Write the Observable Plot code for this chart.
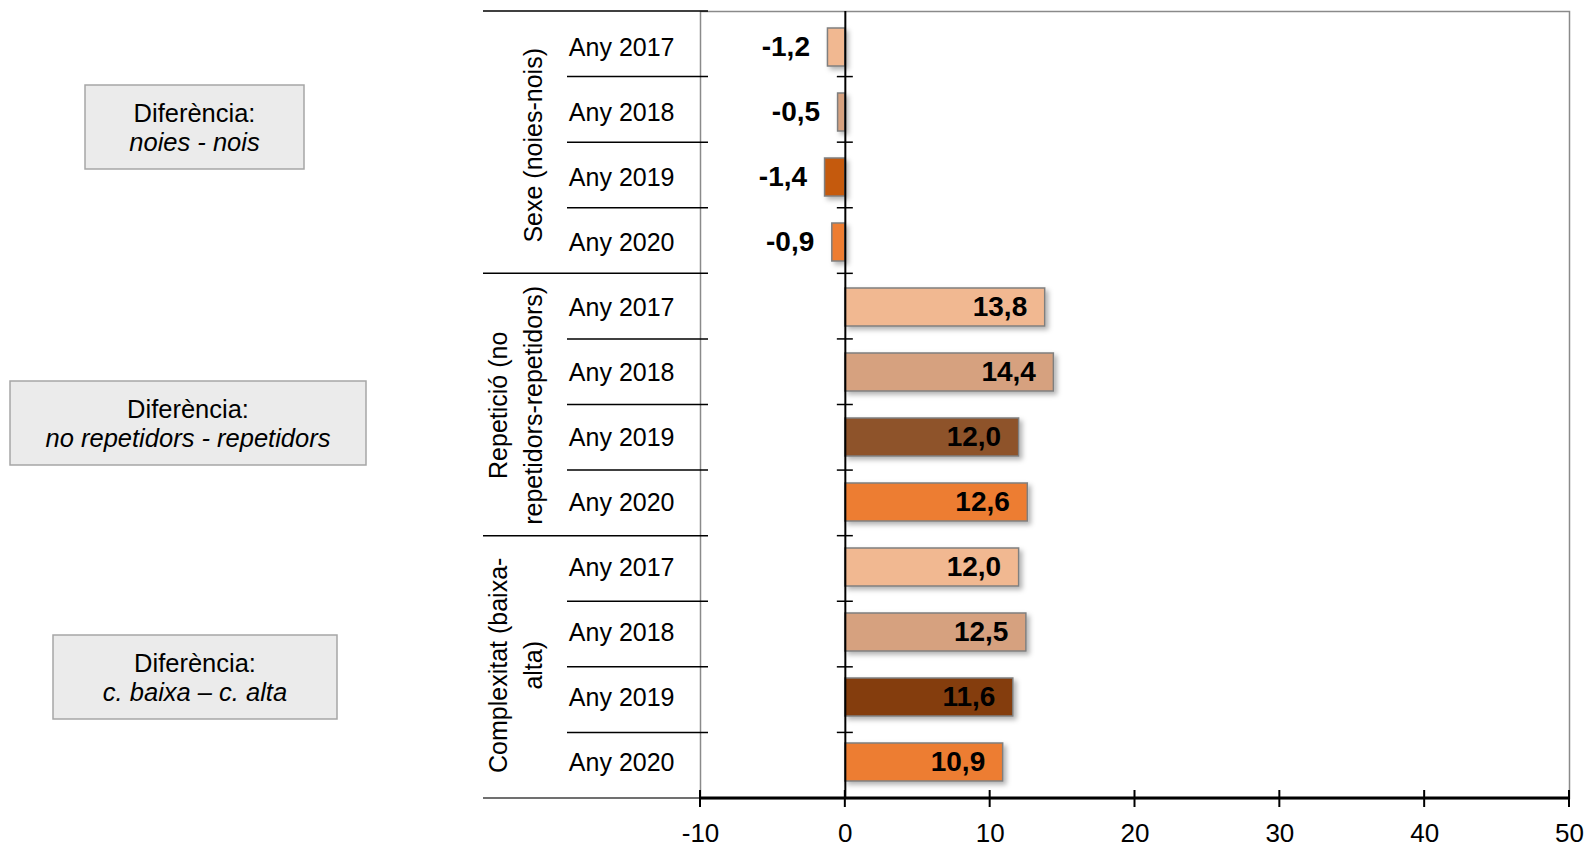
<!DOCTYPE html>
<html><head><meta charset="utf-8">
<script src="https://cdn.jsdelivr.net/npm/d3@7"></script>
<script src="https://cdn.jsdelivr.net/npm/@observablehq/plot@0.6"></script>
<style>
html,body{margin:0;padding:0;background:#fff;overflow:hidden}
#chart svg{font-family:"Liberation Sans",Arial,sans-serif;display:block}
</style></head><body><div id="chart"></div>
<script>
// ---- data ----
const groupIds = ["sexe", "repeticio", "complexitat"];
const groupLabels = ["Sexe (noies-nois)", "Repetició (no\nrepetidors-repetidors)", "Complexitat (baixa-\nalta)"];
const years = ["Any 2017", "Any 2018", "Any 2019", "Any 2020"];
const sexeValues = [-1.2, -0.5, -1.4, -0.9];
const repeticioValues = [13.8, 14.4, 12.0, 12.6];
const complexitatValues = [12.0, 12.5, 11.6, 10.9];
const xTicks = [-10, 0, 10, 20, 30, 40, 50];
const boxTitles = ["Diferència:", "Diferència:", "Diferència:"];
const boxSubtitles = ["noies - nois", "no repetidors - repetidors", "c. baixa – c. alta"];

// ---- styles ----
const yearColors = ["#F1B891", "#D6A17F", null, "#ED7D31"];
const color2019 = ["#C55A11", "#8E5229", "#843C0C"];
const boxLayout = [ // annotation boxes (x, y, w, h) in px
  [85, 85, 219, 84], [10, 381, 356, 84], [53, 635, 284, 84]
];

const valuesByGroup = [sexeValues, repeticioValues, complexitatValues];
const rows = [];
groupIds.forEach((g, gi) => years.forEach((yr, yi) => rows.push({
  key: g + "|" + yr, group: g, year: yr, value: valuesByGroup[gi][yi],
  color: yi === 2 ? color2019[gi] : yearColors[yi]
})));
const keys = rows.map(d => d.key);
const groupAnchors = groupIds.map((g, gi) => ({key: g + "|" + years[1], label: groupLabels[gi]}));
const fmt = v => v.toFixed(1).replace(".", ",");

const W = 1589, H = 846, mL = 700, mR = 20, mT = 11, mB = 48;
const step = (H - mT - mB) / keys.length;
const font = "'Liberation Sans', Arial, sans-serif";

const chart = Plot.plot({
  width: W, height: H, marginLeft: mL, marginRight: mR, marginTop: mT, marginBottom: mB,
  style: {fontFamily: font, background: "white", color: "black", overflow: "visible"},
  x: {domain: [-10, 50], ticks: xTicks},
  y: {domain: keys, paddingInner: 0.42, paddingOuter: 0.21},
  color: {type: "identity"},
  marks: [
    Plot.frame({stroke: "#8a8a8a", strokeWidth: 1.5}),
    Plot.barX(rows, {x: "value", y: "key", fill: "color", stroke: "#7f7f7f", strokeWidth: 1.5}),
    Plot.ruleX([0], {stroke: "black", strokeWidth: 2}),
    Plot.text(rows.filter(d => d.value >= 0), {x: "value", y: "key", text: d => fmt(d.value),
      textAnchor: "end", dx: -18, fontSize: 28, fontWeight: "bold", fill: "black"}),
    Plot.text(rows.filter(d => d.value < 0), {x: "value", y: "key", text: d => fmt(d.value),
      textAnchor: "end", dx: -18, fontSize: 28, fontWeight: "bold", fill: "black"}),
    Plot.axisY({tickSize: 0, tickPadding: 26, fontSize: 25, tickFormat: k => k.split("|")[1], label: null}),
    Plot.axisX({ticks: xTicks, tickSize: 0, tickPadding: 25, fontSize: 26, tickFormat: d => String(d), label: null}),
    Plot.text(groupAnchors, {y: "key", text: "label", frameAnchor: "left", textAnchor: "middle",
      dx: -159, dy: step / 2, rotate: -90, lineAnchor: "bottom", lineHeight: 1.4, fontSize: 25, fill: "black"})
  ]
});
document.getElementById("chart").appendChild(chart);

// ---- decorations derived from scales ----
const svg = d3.select(chart);
const xs = chart.scale("x");
const x0 = xs.apply(0);
const defs = svg.insert("defs", ":first-child");
const f = defs.append("filter").attr("id", "shadow").attr("x", "-10%").attr("y", "-30%").attr("width", "130%").attr("height", "180%");
f.append("feDropShadow").attr("dx", 3).attr("dy", 3).attr("stdDeviation", 2.5)
  .attr("flood-color", "#000").attr("flood-opacity", 0.3);
svg.selectAll('g[aria-label="bar"]').attr("filter", "url(#shadow)");

const deco = svg.append("g");
for (let i = 0; i <= keys.length; i++) {
  const yy = mT + i * step;
  const isGroup = i % years.length === 0;
  if (i < keys.length) {
    deco.append("line").attr("x1", isGroup ? mL - 217 : mL - 133).attr("x2", mL + 8)
      .attr("y1", yy).attr("y2", yy).attr("stroke", "black").attr("stroke-width", 1.5);
  } else {
    deco.append("line").attr("x1", mL - 217).attr("x2", mL)
      .attr("y1", yy).attr("y2", yy).attr("stroke", "#404040").attr("stroke-width", 1.5);
  }
  if (i > 0 && i < keys.length) {
    deco.append("line").attr("x1", x0 - 8).attr("x2", x0 + 8)
      .attr("y1", yy).attr("y2", yy).attr("stroke", "black").attr("stroke-width", 1.5);
  }
}
const yAxis = H - mB;
deco.append("line").attr("x1", xs.apply(-10)).attr("x2", xs.apply(50))
  .attr("y1", yAxis).attr("y2", yAxis).attr("stroke", "black").attr("stroke-width", 3);
xTicks.forEach(t => deco.append("line").attr("x1", xs.apply(t)).attr("x2", xs.apply(t))
  .attr("y1", yAxis - 8).attr("y2", yAxis + 9).attr("stroke", "black").attr("stroke-width", 2));

// ---- annotation boxes ----
boxLayout.forEach(([bx, by, bw, bh], i) => {
  const g = svg.append("g");
  g.append("rect").attr("x", bx).attr("y", by).attr("width", bw).attr("height", bh)
    .attr("fill", "#EBEBEB").attr("stroke", "#A6A6A6").attr("stroke-width", 1.5);
  g.append("text").attr("x", bx + bw / 2).attr("y", by + 37).attr("text-anchor", "middle")
    .attr("font-size", 25.5).attr("font-family", font).attr("fill", "black").text(boxTitles[i]);
  g.append("text").attr("x", bx + bw / 2).attr("y", by + 66).attr("text-anchor", "middle")
    .attr("font-size", 25.5).attr("font-style", "italic").attr("font-family", font).attr("fill", "black").text(boxSubtitles[i]);
});
</script></body></html>
